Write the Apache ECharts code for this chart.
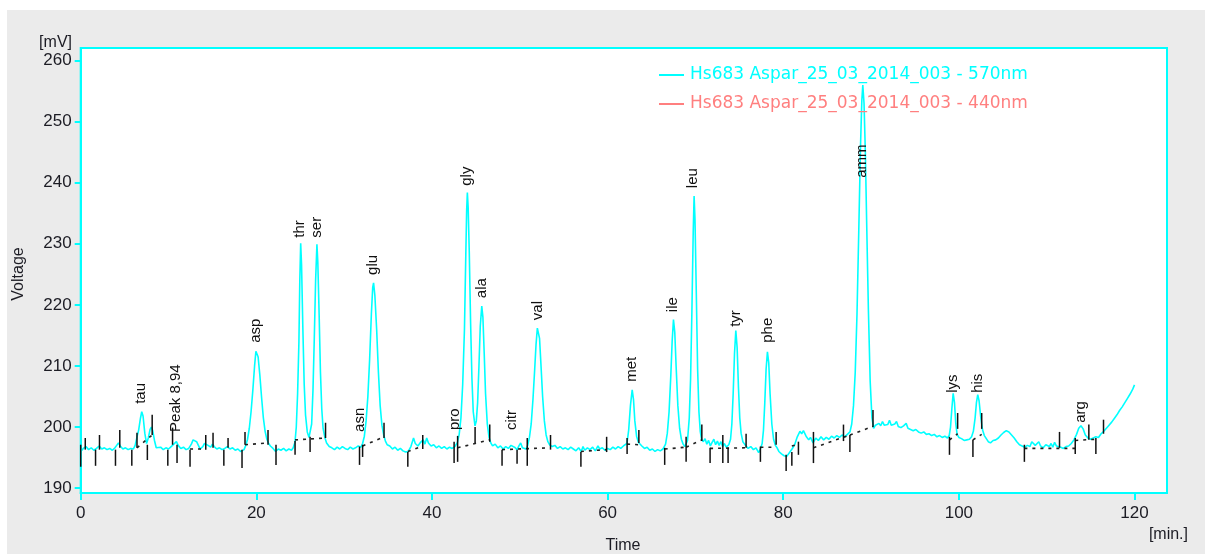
<!DOCTYPE html>
<html><head><meta charset="utf-8">
<script src="https://cdn.jsdelivr.net/npm/echarts@6/dist/echarts.min.js"></script>
<style>
html,body{margin:0;padding:0;background:#fff;}
#wrap{position:relative;width:1205px;height:554px;overflow:hidden;}
#bg{position:absolute;left:7px;top:10px;right:0;bottom:0;background:#EBEBEB;}
#chart{position:absolute;left:0;top:0;width:1205px;height:554px;}
</style></head><body>
<div id="wrap"><div id="bg"></div><div id="chart"></div></div>
<script>
const seriesNames = ['Hs683 Aspar_25_03_2014_003 - 570nm', 'Hs683 Aspar_25_03_2014_003 - 440nm'];
const xTicks = [0, 20, 40, 60, 80, 100, 120];
const yTicks = [190, 200, 210, 220, 230, 240, 250, 260];

// 570 nm trace: [time (min), voltage (mV)]
const trace570 = [
[0,196.0],[0.3,196.5],[0.6,196.8],[0.9,196.3],[1.2,196.6],[1.5,196.2],[1.8,196.5],[2.1,196.9],[2.4,196.4],[2.7,196.6],[3.0,196.3],[3.3,196.5],[3.6,196.2],[3.9,196.6],[4.1,197.0],[4.3,197.4],[4.5,196.9],[4.8,196.4],[5.1,196.6],[5.4,196.3],[5.7,196.5],[6.0,196.4],
[6.2,197.0],[6.4,198.3],[6.6,199.5],[6.8,201.4],[6.95,202.5],[7.1,201.8],[7.3,199.0],[7.5,197.3],[7.7,198.2],[7.9,199.6],[8.05,200.0],[8.2,199.4],[8.4,197.8],[8.6,196.6],[8.8,196.4],[9.1,196.7],[9.4,196.3],[9.7,196.6],[10.0,196.4],[10.3,196.8],[10.6,197.2],[10.9,197.6],[11.1,197.0],[11.4,196.5],[11.7,196.7],[12.0,196.3],[12.3,196.5],[12.6,197.2],[12.8,197.9],[13.0,198.2],[13.2,197.6],[13.4,197.0],[13.6,196.4],[13.9,196.8],[14.1,197.3],[14.3,197.6],[14.5,197.0],[14.8,196.7],[15.0,197.2],[15.2,196.8],[15.5,196.4],[15.8,196.6],[16.1,196.3],[16.4,196.5],[16.7,196.8],[17.0,196.4],[17.3,196.6],[17.6,196.2],[17.9,196.4],[18.2,196.0],[18.4,195.8],[18.6,196.3],
[18.8,197.0],[19.0,198.0],[19.2,199.8],[19.4,202.5],[19.6,206.0],[19.8,210.0],[19.95,212.4],[20.05,212.6],[20.2,211.5],[20.4,208.5],[20.6,204.8],[20.8,201.5],[21.0,199.3],[21.2,198.0],[21.4,197.3],[21.6,196.9],[21.9,196.5],[22.2,196.0],[22.5,196.4],[22.8,196.2],[23.1,196.5],[23.4,196.1],[23.7,196.4],[24.0,196.2],[24.2,196.6],
[24.4,197.5],[24.55,200.0],[24.7,205.5],[24.85,214.0],[24.95,224.0],[25.05,230.1],[25.15,226.5],[25.3,216.0],[25.45,207.0],[25.6,202.0],[25.8,199.2],[26.0,198.3],[26.15,198.6],
[26.3,200.5],[26.45,206.0],[26.6,214.5],[26.75,224.0],[26.9,229.9],[27.0,227.0],[27.15,218.5],[27.3,209.0],[27.45,203.0],[27.6,199.8],[27.8,198.3],[28.0,197.4],[28.3,196.8],[28.6,196.6],[28.9,196.3],[29.2,196.7],[29.5,196.4],[29.8,196.8],[30.1,196.5],[30.4,196.3],[30.7,196.7],[31.0,196.4],[31.3,196.6],[31.6,196.9],[31.9,196.7],
[32.1,197.3],[32.3,198.5],[32.5,201.0],[32.7,205.0],[32.9,211.0],[33.1,218.5],[33.25,222.8],[33.35,223.6],[33.5,221.5],[33.7,216.0],[33.9,209.0],[34.1,203.5],[34.3,200.3],[34.5,198.7],[34.7,197.7],[34.9,197.1],[35.2,196.9],[35.5,196.4],[35.8,196.7],[36.1,196.2],[36.4,196.5],[36.7,196.1],[37.0,195.9],[37.3,196.0],[37.6,196.8],[37.9,198.2],[38.1,197.3],[38.4,196.9],[38.7,197.5],[39.0,197.9],[39.2,197.2],[39.4,198.2],[39.6,197.4],[39.9,196.9],[40.2,197.1],[40.5,196.6],[40.8,196.9],[41.1,196.5],[41.4,196.8],[41.7,196.4],[42.0,196.7],[42.3,196.5],[42.6,196.8],
[42.9,197.5],[43.1,198.8],[43.3,201.5],[43.5,207.0],[43.7,216.0],[43.85,228.0],[43.95,235.5],[44.03,238.4],[44.12,236.0],[44.25,228.5],[44.4,217.0],[44.55,208.0],[44.7,202.5],[44.9,200.2],[45.05,201.0],[45.2,204.0],[45.35,210.0],[45.5,216.5],[45.67,219.8],[45.8,218.0],[45.95,212.0],[46.1,205.5],[46.3,200.5],[46.5,198.3],[46.7,197.4],[46.9,196.9],[47.2,197.2],[47.5,196.6],[47.8,196.9],[48.1,196.4],[48.4,196.8],[48.7,196.5],[49.0,197.0],[49.2,197.3],[49.4,196.7],[49.7,196.3],[49.9,196.9],[50.1,197.4],[50.3,196.6],[50.5,196.9],[50.7,196.4],
[50.9,197.0],[51.1,198.3],[51.3,200.5],[51.5,204.5],[51.7,209.5],[51.85,213.5],[52.0,216.2],[52.1,216.4],[52.25,214.5],[52.4,210.5],[52.6,205.0],[52.8,201.0],[53.0,198.7],[53.2,197.6],[53.4,197.1],[53.7,196.8],[54.0,197.0],[54.3,196.5],[54.6,196.8],[54.9,196.4],[55.2,196.6],[55.5,196.3],[55.8,196.7],[56.1,196.4],[56.4,196.1],[56.7,196.6],[57.0,196.0],[57.2,196.8],[57.4,196.2],[57.7,196.6],[58.0,196.3],[58.3,196.7],[58.6,196.1],[58.9,196.9],[59.1,196.4],[59.4,196.6],[59.7,196.2],[60.0,196.5],[60.3,196.3],[60.6,196.7],[60.9,196.4],[61.2,196.8],[61.5,196.5],[61.8,196.9],[62.0,196.6],
[62.2,197.3],[62.4,199.5],[62.6,203.5],[62.8,206.1],[62.95,204.5],[63.1,201.0],[63.3,198.5],[63.5,197.5],[63.7,197.6],[63.9,196.9],[64.2,196.5],[64.5,196.7],[64.8,196.2],[65.1,196.4],[65.4,196.0],[65.7,196.3],[66.0,196.1],[66.3,196.4],
[66.6,197.2],[66.8,199.0],[67.0,202.5],[67.2,208.5],[67.35,214.0],[67.5,217.6],[67.65,215.5],[67.8,210.0],[68.0,203.5],[68.2,199.8],[68.4,198.0],[68.6,197.2],[68.8,196.8],[68.95,196.7],
[69.1,197.8],[69.3,201.5],[69.45,208.0],[69.6,219.0],[69.75,232.0],[69.85,237.8],[69.95,234.0],[70.1,222.0],[70.25,209.5],[70.4,202.5],[70.55,199.3],[70.7,198.0],[70.9,197.6],[71.1,198.1],[71.3,197.2],[71.5,197.8],[71.7,196.9],[71.9,197.5],[72.1,198.0],[72.3,197.1],[72.5,197.7],[72.7,197.0],[72.9,197.6],[73.1,196.8],[73.3,197.3],[73.5,196.7],[73.8,197.1],
[74.0,198.0],[74.15,200.5],[74.3,205.5],[74.45,212.0],[74.6,215.8],[74.75,213.0],[74.9,206.5],[75.05,201.5],[75.2,199.0],[75.4,197.6],[75.6,197.2],[75.8,196.9],[76.0,196.5],[76.3,196.8],[76.6,196.3],[76.9,196.6],[77.2,195.8],[77.4,196.4],
[77.6,197.3],[77.75,199.5],[77.9,204.0],[78.05,209.5],[78.2,212.3],[78.35,210.5],[78.5,205.5],[78.7,200.5],[78.9,198.0],[79.1,197.0],[79.3,196.6],[79.5,196.0],[79.8,195.6],[80.1,195.3],[80.4,195.2],[80.7,195.8],[81.0,196.4],[81.3,197.1],[81.6,198.4],[81.9,199.3],[82.1,198.9],[82.3,199.4],[82.6,198.5],[82.9,197.9],[83.1,198.3],[83.4,197.4],[83.7,198.2],[84.0,197.8],[84.3,198.4],[84.6,197.9],[84.9,198.3],[85.2,198.0],[85.5,198.5],[85.8,198.2],[86.1,198.6],[86.4,198.3],[86.7,198.7],[87.0,198.4],[87.3,198.8],
[87.6,199.2],[87.8,200.5],[88.0,203.5],[88.2,209.0],[88.4,218.5],[88.6,232.0],[88.8,246.0],[88.95,253.5],[89.06,256.0],[89.2,253.0],[89.35,245.0],[89.5,233.5],[89.7,219.0],[89.9,207.5],[90.1,201.5],[90.3,199.8],[90.5,200.3],[90.7,200.0],[90.9,200.6],[91.1,200.2],[91.3,200.9],[91.5,200.3],[91.7,200.1],[91.9,200.4],[92.1,201.1],[92.3,200.3],[92.5,200.0],[92.7,200.5],[92.9,200.9],[93.1,200.1],[93.4,199.9],[93.7,200.2],[94.0,200.6],[94.2,199.8],[94.5,199.6],[94.8,199.4],[95.1,199.6],[95.4,199.2],[95.7,199.0],[96.0,199.2],[96.3,198.8],[96.6,198.9],[96.9,198.6],[97.2,198.8],[97.5,198.4],[97.8,198.6],[98.1,198.3],[98.4,198.5],[98.7,198.2],
[98.9,198.6],[99.05,200.0],[99.2,203.0],[99.35,205.5],[99.5,204.0],[99.65,200.5],[99.8,198.8],[100.0,198.3],[100.3,198.1],[100.6,197.8],[100.9,197.9],[101.2,198.0],[101.45,198.4],
[101.65,199.3],[101.85,201.5],[102.0,204.0],[102.15,205.3],[102.3,204.3],[102.5,201.5],[102.7,199.5],[102.9,198.6],[103.1,198.3],[103.35,197.6],[103.6,197.4],[103.9,197.8],[104.2,197.9],[104.5,198.2],[104.8,198.7],[105.1,199.1],[105.4,199.4],[105.7,199.2],[106.0,198.7],[106.3,198.2],[106.6,197.6],[106.9,197.1],[107.2,196.9],[107.5,196.7],[107.8,197.0],[108.1,196.8],[108.3,197.6],[108.5,197.9],[108.7,197.0],[108.9,196.8],[109.1,197.6],[109.3,196.9],[109.6,196.6],[109.9,197.1],[110.1,197.4],[110.3,196.8],[110.5,197.3],[110.7,196.7],[110.9,197.5],[111.1,196.9],[111.3,196.6],[111.6,196.7],[111.9,196.5],[112.2,196.8],[112.5,196.9],[112.8,197.3],[113.1,197.9],
[113.4,198.8],[113.65,199.8],[113.9,200.2],[114.15,199.7],[114.4,198.7],[114.7,198.2],[115.0,198.0],[115.3,198.2],[115.6,198.4],[115.9,198.3],[116.2,198.9],[116.5,199.3],[116.8,199.8],[117.1,200.3],[117.4,200.8],[117.7,201.4],[118.0,202.0],[118.3,202.7],[118.6,203.3],[118.9,204.0],[119.2,204.7],[119.5,205.4],[119.8,206.2],[120.0,206.9]
];
// 440 nm trace: not visible in the picture
const trace440 = [];

// Peak names: [time, voltage at label start, name]
const peakLabels = [
[6.88,203.8,'tau'],[10.87,199.2,'Peak 8,94'],[19.98,213.8,'asp'],[24.98,231.0,'thr'],[26.92,231.0,'ser'],
[31.81,199.2,'asn'],[33.29,224.9,'glu'],[42.63,199.5,'pro'],[44.0,239.5,'gly'],[45.7,221.1,'ala'],
[49.12,199.5,'citr'],[52.09,217.5,'val'],[62.79,207.4,'met'],[67.46,218.8,'ile'],[69.74,239.1,'leu'],
[74.64,216.4,'tyr'],[78.28,213.8,'phe'],[88.99,240.8,'amm'],[99.35,205.6,'lys'],[102.2,205.6,'his'],[113.92,200.7,'arg']
];

// Peak start/end markers: [time, top voltage, bottom voltage]
const peakMarkers = [
[0.0,197.1,193.5],[0.52,198.2,196.3],[1.69,196.3,193.65],[2.14,198.7,196.3],[3.96,196.3,193.65],[4.45,199.5,196.6],
[5.82,196.3,193.65],[6.41,199.05,196.6],[7.59,197.1,194.6],[8.14,202.0,198.7],[9.92,196.3,193.65],[10.46,199.9,197.1],
[10.97,197.1,194.1],[12.45,196.3,193.5],[14.24,198.7,196.3],[15.07,199.05,196.6],[16.3,196.3,193.65],[16.78,198.2,196.6],
[18.37,196.3,193.3],[18.71,199.2,197.1],[21.33,199.5,197.1],[22.24,197.1,193.8],[24.41,197.7,195.45],[26.12,198.4,195.9],
[27.88,200.7,198.2],[31.75,196.8,193.8],[32.1,197.1,195.1],[34.54,200.7,198.2],[37.25,195.9,193.5],[38.95,198.7,196.4],
[42.52,197.6,194.1],[42.92,198.55,194.3],[44.91,200.0,197.4],[46.58,200.4,197.6],[47.98,196.3,193.65],[49.69,196.3,194.0],
[50.85,198.2,193.65],[53.5,198.7,196.3],[56.96,195.9,193.5],[59.89,198.4,195.9],[62.22,198.2,195.6],[63.56,199.5,197.4],
[66.5,196.6,193.8],[68.94,198.4,194.3],[70.73,200.4,197.7],[71.67,196.6,194.1],[73.12,198.7,194.1],[73.72,196.6,194.1],
[75.77,198.9,196.6],[77.4,196.8,194.3],[79.19,199.2,197.1],[80.33,195.45,192.8],[80.98,195.9,193.65],[81.73,197.6,195.45],
[83.44,199.2,194.1],[86.86,200.4,197.7],[87.59,198.7,195.9],[90.22,202.8,200.0],[98.93,198.4,195.45],[99.86,202.3,199.7],
[101.6,197.9,195.1],[102.6,202.3,199.7],[107.46,197.1,194.3],[111.46,199.2,196.6],[113.25,198.2,195.6],[114.8,200.4,197.9],
[115.6,198.2,195.6],[116.47,201.2,198.9]
];

// Dotted peak baselines: [t1, v1, t2, v2]
const baselineSegments = [
[6.41,196.6,8.14,198.7],[12.45,196.4,14.24,196.4],[18.71,197.1,21.33,197.4],[24.41,197.9,27.88,198.2],
[32.1,196.9,34.54,198.4],[37.25,196.0,38.95,196.9],[42.92,196.6,46.58,197.9],[47.98,196.3,53.5,196.6],
[56.96,196.0,59.89,196.3],[62.22,197.2,63.56,197.1],[66.5,196.4,68.94,196.7],[68.94,196.7,70.73,197.9],
[71.67,196.5,75.77,196.6],[77.4,196.7,79.19,196.7],[80.98,196.9,81.73,197.2],[83.44,196.6,87.59,198.7],
[87.59,198.7,90.22,200.1],[98.93,197.9,99.86,198.9],[101.6,197.9,102.6,198.8],[107.46,196.5,113.25,196.5],
[113.25,197.8,115.6,198.0]
];

const chart = echarts.init(document.getElementById('chart'), null, {renderer: 'canvas'});
const CYAN = '#00FFFF';
const RED = '#FF7F7F';
const TXT = '#1c1c24';

const option = {
  animation: false,
  backgroundColor: 'transparent',
  grid: {left: 80.7, top: 48, right: 38, bottom: 61, show: true, borderColor: CYAN, borderWidth: 2,
         backgroundColor: '#ffffff', outerBoundsMode: 'none'},
  legend: {
    left: 654, top: 61, orient: 'vertical', itemGap: 11, itemWidth: 25, itemHeight: 2, icon: 'rect',
    selectedMode: false,
    textStyle: {fontSize: 17, fontFamily: 'DejaVu Sans', lineHeight: 18, padding: [0, 0, 0, 1]},
    data: [
      {name: seriesNames[0], textStyle: {color: CYAN}},
      {name: seriesNames[1], textStyle: {color: RED}}
    ]
  },
  xAxis: {
    type: 'value', min: 0, max: 123.7,
    axisLine: {show: true, onZero: false, lineStyle: {color: CYAN, width: 2}},
    axisTick: {show: true, customValues: xTicks, length: 7, lineStyle: {color: CYAN, width: 2}},
    axisLabel: {customValues: xTicks, margin: 12, color: TXT, fontSize: 17, fontFamily: 'Liberation Sans'},
    splitLine: {show: false}
  },
  yAxis: {
    type: 'value', min: 189.2, max: 262.05,
    axisLine: {show: true, lineStyle: {color: CYAN, width: 2}},
    axisTick: {show: true, customValues: yTicks, length: 6, lineStyle: {color: CYAN, width: 2}},
    axisLabel: {customValues: yTicks, margin: 9, color: TXT, fontSize: 17, fontFamily: 'Liberation Sans'},
    splitLine: {show: false}
  },
  graphic: [
    {type: 'text', x: 72, y: 43, style: {text: '[mV]', fill: TXT, font: '16px "Liberation Sans"', align: 'right', verticalAlign: 'middle'}},
    {type: 'text', x: 19, y: 274, rotation: Math.PI / 2, style: {text: 'Voltage', fill: TXT, font: '16px "Liberation Sans"', align: 'center', verticalAlign: 'middle'}},
    {type: 'text', x: 623, y: 538, style: {text: 'Time', fill: TXT, font: '16px "Liberation Sans"', align: 'center', verticalAlign: 'top'}},
    {type: 'text', x: 1188, y: 535, style: {text: '[min.]', fill: TXT, font: '16px "Liberation Sans"', align: 'right', verticalAlign: 'middle'}}
  ],
  series: [
    {
      type: 'custom', name: 'baselines', data: baselineSegments, z: 3, silent: true,
      renderItem: function (params, api) {
        const p1 = api.coord([api.value(0), api.value(1)]);
        const p2 = api.coord([api.value(2), api.value(3)]);
        return {type: 'line', shape: {x1: p1[0], y1: p1[1], x2: p2[0], y2: p2[1]},
                style: {stroke: '#222', lineWidth: 1.6, lineDash: [3, 5]}};
      }
    },
    {
      type: 'line', name: seriesNames[0], data: trace570, symbol: 'none', z: 2,
      color: CYAN, lineStyle: {color: CYAN, width: 1.6}
    },
    {
      type: 'line', name: seriesNames[1], data: trace440, symbol: 'none', z: 2,
      color: RED, lineStyle: {color: RED, width: 1.6}
    },
    {
      type: 'custom', name: 'markers', data: peakMarkers, z: 4, silent: true,
      renderItem: function (params, api) {
        const p1 = api.coord([api.value(0), api.value(1)]);
        const p2 = api.coord([api.value(0), api.value(2)]);
        return {type: 'line', shape: {x1: p1[0], y1: p1[1], x2: p2[0], y2: p2[1]},
                style: {stroke: '#111', lineWidth: 1.5}};
      }
    },
    {
      type: 'custom', name: 'peakNames', data: peakLabels, z: 5, silent: true,
      renderItem: function (params, api) {
        const p = api.coord([api.value(0), api.value(1)]);
        return {type: 'text', x: p[0], y: p[1], rotation: Math.PI / 2,
                style: {text: peakLabels[params.dataIndex][2], fill: '#111', font: '15px "Liberation Sans"',
                        align: 'left', verticalAlign: 'middle'}};
      }
    }
  ]
};
chart.setOption(option);
</script>
</body></html>
